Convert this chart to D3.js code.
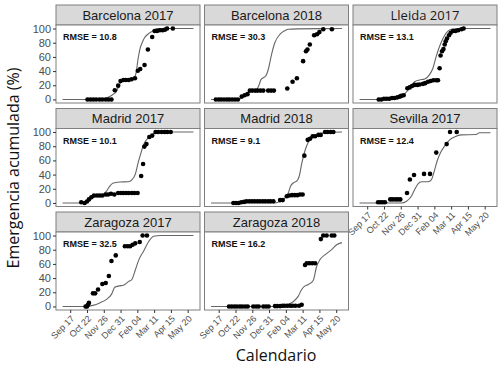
<!DOCTYPE html>
<html><head><meta charset="utf-8">
<script src="https://cdn.jsdelivr.net/npm/d3@7"></script>
<style>body{margin:0;background:#fff}svg{display:block}</style>
</head><body>
<svg id="c" width="502" height="376"></svg>
<script>
// ---- data (x = days since Sep 1, y = % cumulative emergence) ----
const panelNames = ["Barcelona 2017","Barcelona 2018","Lleida 2017","Madrid 2017","Madrid 2018","Sevilla 2017","Zaragoza 2017","Zaragoza 2018"];
const rmseValues = ["10.8","30.3","13.1","10.1","9.1","12.4","32.5","16.2"];
const xTickDays = [16,51,86,121,156,191,226,261];
const xTickLabels = ["Sep 17","Oct 22","Nov 26","Dec 31","Feb 04","Mar 11","Apr 15","May 20"];
const yTicks = [0,20,40,60,80,100];

const bcn17Obs = [[52,0],[58,0],[64,0],[70,0],[77,0],[83,0],[90,0],[96,0],[102,0],[109,13],[116,19.5],[121,26],[127,27.5],[132,27.5],[138,27.5],[144,28.5],[151,30],[157,40.5],[162,43],[171,48.5],[178,70.5],[187,88],[192,96.5],[197,96.5],[203,97.5],[209,97.5],[214,98.5],[218,100],[230,100]];
const bcn17Model = [[0,0],[78,0],[95,3],[105,7],[113,12],[118,20],[123,25],[134,27],[144,29],[150,31],[154,40],[157,55],[161,70],[166,80],[171,87],[178,92],[187,96],[197,100],[273,100]];

const bcn18Obs = [[10,0],[16,0],[21,0],[27,0],[33,0],[38,0],[44,0],[50,0],[56,0],[64,4],[70,6],[76,7.5],[81,12.5],[86,12.5],[92,12.5],[97,12.5],[103,12.5],[109,12.5],[119,12.5],[125,12.5],[131,12.5],[159,15.5],[170,25],[179,30],[192,54],[198,68],[201,70.5],[206,77.5],[215,90.5],[221,92],[226,95],[234,99],[252,99]];
const bcn18Model = [[0,0],[57,0],[65,4],[75,9],[85,12],[95,14],[100,20],[104,28],[110,31],[114,33],[120,44],[126,63],[133,80],[144,92],[154,97],[161,99],[180,99.5],[273,100]];

const lle17Obs = [[40,0],[45.5,0],[51,1],[56.6,1],[62,1],[67.8,2],[73,2],[79,3],[84,4],[87,5],[92,6],[99.7,15.7],[104.6,17],[109.5,19],[115,20.5],[120.6,20.5],[125.4,21],[132.4,22],[137,23],[142.8,25],[148.4,26],[154,27],[160,27],[163.6,27],[167,44],[169,62],[172,68],[175,71],[177.6,77.5],[179.7,82],[182.4,86],[186.6,90.5],[190,94],[195,96.5],[200,96.5],[205.6,97.5],[212.5,99],[217,100]];
const lle17Model = [[0,0],[73,0],[87,4],[101,13],[108,20],[115,25],[125,27.5],[136,29],[146,35],[153,44],[160,61],[167,75],[174,86],[181,94],[191,99],[206,100],[273,100]];

const mad17Obs = [[39,1],[46,0],[51,2],[55,5],[60,8],[65.5,10.5],[72,10.5],[77.6,10.5],[83,10.5],[90,12],[95,12],[101,13],[108,12],[116,14],[122,14],[127,14],[132.5,14],[138,14],[144.5,14],[150,14],[156.5,14],[164,38],[168,55],[170.6,79.5],[175,83],[181,93],[187,95],[194,100],[199.5,100],[206.6,100],[213,100],[218.5,100],[225.6,100]];
const mad17Model = [[0,0],[42,0],[56,5],[70,9],[85,12],[92,17],[99,24],[106,28],[120,29.5],[137,30],[145,33],[152,41],[157,55],[162,67],[169,82],[180,93],[190,97.5],[204,100],[273,100]];

const mad18Obs = [[46.6,0],[52,0],[57.6,0],[63,1],[69,1.5],[74,2.4],[80,2.4],[85.5,2.4],[91,2.4],[96.6,2.4],[102,2.4],[108,2.4],[113,2.4],[119,2.4],[124,2.4],[130,2.4],[144,4],[149.5,4],[158,9.5],[163,10.5],[169,11],[174.5,11],[180,11],[185.6,12],[191,12],[194.6,66.7],[201.6,89],[206.4,90.5],[212,94],[217,94],[224,96],[228.7,96],[237.7,100],[243,100],[249.5,100],[255,100]];
const mad18Model = [[0,0],[133,0],[144,2],[154,7],[161,14],[166,24],[172,28.5],[179,31],[184,38],[189,55],[196,74],[203,86],[213,93],[227,97.5],[241,99.5],[273,100]];

const sev17Obs = [[38.6,1],[43.4,1],[48.3,1],[53,1],[64,5],[69,5],[74.7,5],[80,5],[85,5],[99,14],[105,33],[113.6,39.5],[134.5,41],[147,41],[160,71],[181.7,83],[188.7,100],[202.6,100]];
const sev17Model = [[0,0],[87,0],[98,2.5],[108,9.5],[115,19],[122,27],[129,30],[143,30],[150,33],[155,43],[162,59.5],[169,71],[178,81],[188,89],[198,93],[212,96],[243,96.5],[250,99],[273,99]];

const zar17Obs = [[48,0],[51,0],[53,2.4],[55,5],[63.5,18.5],[68,18.5],[74,24],[83,31.7],[90,33],[96.6,43],[102,64],[111,72],[130,85],[136,85],[141,85],[146,87],[151.6,89],[161,91],[167,100],[176,100]];
const zar17Model = [[0,0],[49,0],[63.5,1.5],[77.6,5],[91.6,10],[102,17],[109,27],[118,29],[127,30],[137.5,35],[144.5,38],[151.6,51],[158.6,65],[169,78],[180,92],[190,99],[204.5,100],[273,100]];

const zar18Obs = [[37.5,0],[43,0],[48.7,0],[54,0],[60,0],[65,0],[71,0],[76.5,0],[88,0],[94,0],[99.4,0],[109,0],[114.7,0],[120,0],[133.4,0.5],[138,0.5],[144,0.5],[149,1],[153.6,1],[159,1],[165,1],[170,1],[176,1],[183.5,1],[189,2.5],[196,58.5],[199.5,61],[205,61],[211,61],[217,61],[229,95],[234,100],[241,100],[251.6,100],[257,100]];
const zar18Model = [[0,0],[144,0],[158,2.4],[172,7],[182,14.6],[189,24],[194,28],[203,31],[213,36.6],[220,56],[227,66],[238,73],[252,80.5],[262,87],[273,90]];

const obsList = [bcn17Obs,bcn18Obs,lle17Obs,mad17Obs,mad18Obs,sev17Obs,zar17Obs,zar18Obs];
const modelList = [bcn17Model,bcn18Model,lle17Model,mad17Model,mad18Model,sev17Model,zar17Model,zar18Model];

// ---- layout ----
const svg = d3.select("#c");
const colX = [56, 204.5, 353], panelW = 144;
const rowY = [25, 128.5, 232], panelH = 78, stripH = 20;
const grey = "#7f7f7f", tickCol = "#4d4d4d";

const x = d3.scaleLinear().domain([-13.65, 286.65]).range([0, panelW]);
const y = d3.scaleLinear().domain([-5, 105]).range([panelH, 0]);
const line = d3.line().x(d => x(d[0])).y(d => y(d[1])).curve(d3.curveMonotoneX);

panelNames.forEach((name, i) => {
  const r = Math.floor(i / 3), c = i % 3;
  const g = svg.append("g").attr("transform", `translate(${colX[c]},${rowY[r]})`);
  // strip
  g.append("rect").attr("x", 0).attr("y", -stripH).attr("width", panelW).attr("height", stripH)
    .attr("fill", "#d9d9d9").attr("stroke", grey).attr("stroke-width", 1);
  g.append("text").attr("x", panelW / 2).attr("y", -stripH / 2 + 4.5).attr("text-anchor", "middle")
    .attr("font-family", name.startsWith("Lleida") ? "Open Sans" : "Liberation Sans, Arial")
    .attr("font-size", 13).attr("fill", "#1a1a1a").text(name);
  // panel
  g.append("rect").attr("width", panelW).attr("height", panelH).attr("fill", "#fff");
  g.append("path").datum(modelList[i]).attr("d", line).attr("fill", "none")
    .attr("stroke", "#666").attr("stroke-width", 1.1);
  g.selectAll("circle.o").data(obsList[i]).join("circle")
    .attr("cx", d => x(d[0])).attr("cy", d => y(d[1])).attr("r", 2.3).attr("fill", "#000");
  g.append("text").attr("x", 7).attr("y", 15).attr("font-family", "Liberation Sans, Arial")
    .attr("font-size", 9).attr("font-weight", "bold").attr("fill", "#111")
    .text("RMSE = " + rmseValues[i]);
  g.append("rect").attr("width", panelW).attr("height", panelH).attr("fill", "none")
    .attr("stroke", grey).attr("stroke-width", 1);

  // y axis on first column
  if (c === 0) {
    const ya = g.append("g").call(d3.axisLeft(y).tickValues(yTicks).tickSize(3).tickPadding(2));
    ya.select(".domain").remove();
    ya.selectAll("line").attr("stroke", "#333");
    ya.selectAll("text").attr("font-family", "Liberation Sans, Arial").attr("font-size", 11).attr("fill", tickCol);
  }
  // x axis at bottom of each column
  const isBottom = (i >= 6) || (i === 5);
  if (isBottom) {
    const xa = g.append("g").attr("transform", `translate(0,${panelH})`)
      .call(d3.axisBottom(x).tickValues(xTickDays).tickSize(3).tickFormat((d, k) => xTickLabels[k]));
    xa.select(".domain").remove();
    xa.selectAll("line").attr("stroke", "#333");
    xa.selectAll("text").attr("font-family", "Liberation Sans, Arial").attr("font-size", 9)
      .attr("fill", tickCol).attr("text-anchor", "end")
      .attr("x", 0).attr("y", 0).attr("dy", "0.35em")
      .attr("transform", "translate(2,7) rotate(-45)");
  }
});

svg.append("text").attr("transform", "translate(19,168) rotate(-90)").attr("text-anchor", "middle")
  .attr("font-family", "Open Sans").attr("font-size", 16).attr("fill", "#111").text("Emergencia acumulada (%)");
svg.append("text").attr("x", 276).attr("y", 361).attr("text-anchor", "middle")
  .attr("font-family", "Open Sans").attr("font-size", 16).attr("fill", "#111").text("Calendario");
</script>
</body></html>
